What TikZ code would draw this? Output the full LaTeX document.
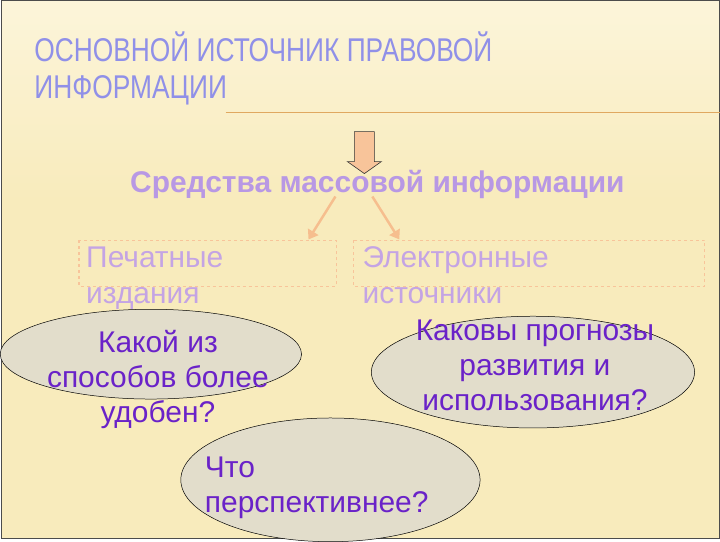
\documentclass[tikz,border=0pt]{standalone}
\usepackage{fontspec}
\setmainfont{Liberation Sans}
\newfontfamily\narrowf[FakeStretch=0.8]{Liberation Sans}
\usetikzlibrary{shapes.geometric,arrows.meta}
\definecolor{bg}{HTML}{F8EBBC}
\definecolor{bgt}{HTML}{FCF5DA}
\definecolor{titlec}{HTML}{9090E8}
\definecolor{subc}{HTML}{B898E4}
\definecolor{boxc}{HTML}{C4A4E4}
\definecolor{peach}{HTML}{F8C49A}
\definecolor{arr}{HTML}{F6BE8E}
\definecolor{ellf}{HTML}{E2DDCB}
\definecolor{qc}{HTML}{6A22C8}
\definecolor{linec}{HTML}{E0A860}
\tikzset{
  oval/.style={ellipse,draw=black,line width=0.5pt,fill=ellf,inner sep=0pt},
  qtext/.style={text=qc,font=\fontsize{30}{35}\selectfont,align=center},
  btext/.style={text=boxc,font=\fontsize{30}{36}\selectfont,align=left,anchor=north west},
  dbox/.style={draw=peach,dashed,line width=1.2pt},
  conn/.style={draw=arr,line width=2.5pt,-{Triangle[length=9pt,width=12pt]}}
}
\begin{document}
\begin{tikzpicture}[x=1pt,y=-1pt]
\shade[top color=bgt,bottom color=bg] (0,0) rectangle (720,200);
\fill[bg] (0,200) rectangle (720,540);
\draw[black!70,line width=1pt] (0.5,0.5) rectangle (719.5,539.5);
\node[anchor=base west,text=titlec,font=\narrowf\fontsize{33}{36}\selectfont,inner sep=0pt] (t1) at (33,62) {ОСНОВНОЙ ИСТОЧНИК ПРАВОВОЙ};
\node[anchor=base west,text=titlec,font=\narrowf\fontsize{33}{36}\selectfont,inner sep=0pt] (t2) at (33,99) {ИНФОРМАЦИИ};
\coordinate (l1) at (225,113);
\coordinate (l2) at (720,113);
\draw[linec,line width=1pt] (l1) -- (l2);
\draw[draw=black!80,fill=peach,line width=0.6pt] (354,132) -- (374,132) -- (374,162) -- (381,162) -- (364,174) -- (347,162) -- (354,162) -- cycle;
\node[text=subc,font=\bfseries\fontsize{30}{34}\selectfont,inner sep=0pt] (sm) at (377,185) {Средства массовой информации};
\draw[dbox] (78,241) rectangle (336,287);
\draw[dbox] (353,241) rectangle (705,287);
\coordinate (a1) at (335,197); \coordinate (a2) at (308,240);
\coordinate (b1) at (372,197); \coordinate (b2) at (399,240);
\draw[conn] (a1) -- (a2);
\draw[conn] (b1) -- (b2);
\node[btext,inner sep=0pt] (pe) at (85,247) {Печатные\\издания};
\node[btext,inner sep=0pt] (el) at (362,247) {Электронные\\источники};
\node[oval,minimum width=302pt,minimum height=90pt] (e1) at (150,355) {};
\node[oval,minimum width=324pt,minimum height=112pt] (e2) at (533,373) {};
\node[oval,minimum width=300pt,minimum height=124pt] (e3) at (330,481) {};
\node[qtext] (q1) at (157,380) {Какой из\\способов более\\удобен?};
\node[qtext] (q2) at (535,366) {Каковы прогнозы\\развития и\\использования?};
\node[qtext,align=left,anchor=north west,inner sep=0pt] (q3) at (204,458) {Что\\перспективнее?};
\end{tikzpicture}
\end{document}
